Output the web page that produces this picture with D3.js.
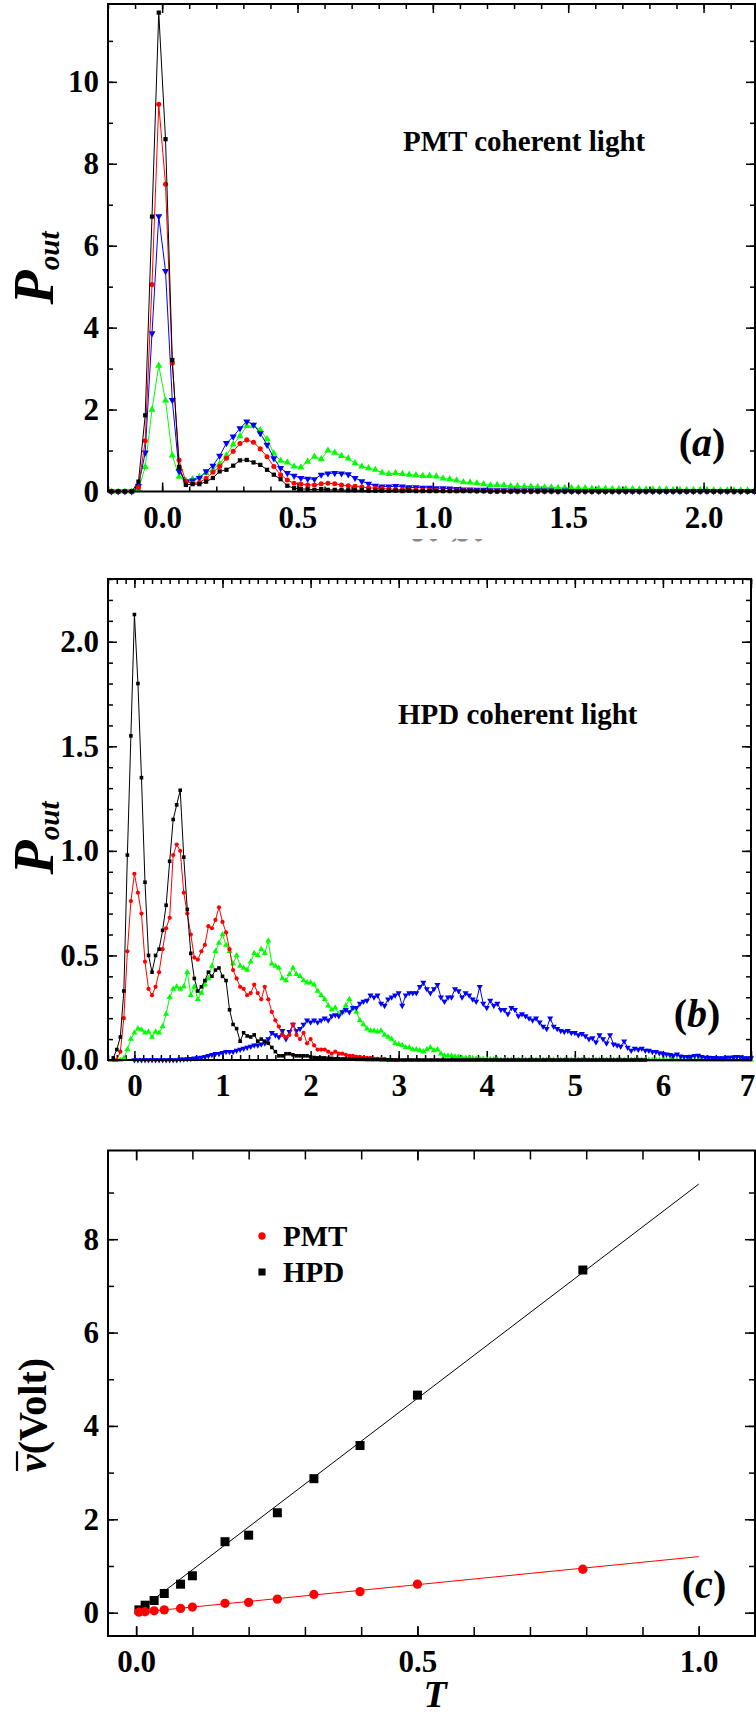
<!DOCTYPE html>
<html>
<head>
<meta charset="utf-8">
<script src="https://cdn.jsdelivr.net/npm/d3@7"></script>
<style>
  body { margin: 0; background: #fff; }
  svg { display: block; }
</style>
</head>
<body>
<svg id="fig" width="756" height="1715"></svg>
<script>
// ---- panel (a): PMT, bins of 0.025 starting at -0.1875 ----
const startA = -0.1875, stepA = 0.025;
const blackA = [0,0,0,0,0.24,1.86,6.71,11.69,8.60,3.21,
  0.60,0.16,0.18,0.18,0.24,0.33,0.49,0.53,0.63,0.76,
  0.77,0.71,0.65,0.53,0.41,0.30,0.14,0.08,0.06,0.06,
  0.04,0.06,0.04,0.04,0.04,0.03,0.03,0.03,0.02,0.02,
  0.02,0.02,0.02,0.01,0.02,0.01,0.01,0.01,0.01,0.01,
  0.01,0.01,0.01,0.01,0.01,0.01,0,0,0,0,
  0,0,0,0,0,0,0,0,0,0,0,0,0,0,0,0,0,0,0,0,
  0,0,0,0,0,0,0,0,0,0,0,0,0,0,0,0];
const redA = [0,0,0,0,0.10,1.24,5.05,9.45,7.50,3.13,
  0.77,0.24,0.20,0.22,0.32,0.47,0.61,0.81,0.98,1.17,
  1.26,1.20,1.04,0.85,0.61,0.41,0.28,0.20,0.18,0.16,
  0.16,0.19,0.20,0.19,0.16,0.14,0.13,0.11,0.09,0.08,
  0.07,0.06,0.05,0.05,0.04,0.04,0.03,0.03,0.03,0.02,
  0.02,0.02,0.02,0.02,0.01,0.01,0.01,0.01,0.01,0.01,
  0.01,0.01,0.01,0.01,0.01,0.01,0,0,0,0,
  0,0,0,0,0,0,0,0,0,0,0,0,0,0,0,0,0,0,0,0,0,0,0,0,0,0];
const blueA = [0,0,0,0,0.13,0.95,3.86,6.72,5.38,2.23,
  0.50,0.24,0.27,0.33,0.49,0.63,0.87,1.18,1.34,1.54,
  1.71,1.63,1.42,1.14,0.81,0.57,0.45,0.38,0.33,0.31,
  0.30,0.41,0.44,0.45,0.44,0.42,0.33,0.25,0.19,0.14,
  0.12,0.12,0.13,0.12,0.10,0.10,0.09,0.09,0.08,0.08,
  0.07,0.06,0.05,0.05,0.04,0.04,0.03,0.03,0.03,0.02,
  0.02,0.02,0.02,0.02,0.02,0.02,0.01,0.02,0.01,0.01,
  0.01,0.01,0.01,0.01,0.01,0.01,0.01,0.01,0.01,0.01,
  0.01,0.01,0.01,0.01,0.01,0.01,0.01,0.01,0.01,0.01,
  0.01,0.01,0.01,0.01,0.01,0.01];
const greenA = [0,0,0,0,0.05,0.60,2.00,3.07,2.22,0.88,
  0.36,0.27,0.30,0.36,0.45,0.53,0.68,0.88,1.15,1.35,
  1.60,1.60,1.50,1.28,0.93,0.75,0.71,0.61,0.59,0.73,
  0.85,0.79,1.00,0.95,0.87,0.81,0.69,0.61,0.57,0.53,
  0.46,0.43,0.45,0.43,0.41,0.40,0.38,0.38,0.37,0.32,
  0.30,0.27,0.23,0.22,0.20,0.18,0.15,0.16,0.15,0.13,
  0.13,0.12,0.12,0.11,0.10,0.10,0.09,0.09,0.08,0.08,
  0.08,0.07,0.07,0.07,0.06,0.06,0.06,0.06,0.05,0.05,
  0.05,0.05,0.05,0.04,0.04,0.04,0.04,0.04,0.04,0.03,
  0.03,0.03,0.03,0.03,0.03,0.03];

// ---- panel (b): HPD, bins of 0.04 starting at -0.24 ----
const startB = -0.24, stepB = 0.04;
const blackB = [0.01,0.05,0.11,0.33,0.98,1.55,2.13,1.80,1.35,0.85,
  0.50,0.42,0.50,0.53,0.62,0.74,0.95,1.15,1.22,1.29,
  0.97,0.72,0.51,0.39,0.33,0.35,0.38,0.42,0.40,0.43,
  0.44,0.40,0.38,0.24,0.17,0.15,0.09,0.13,0.115,0.11,
  0.12,0.09,0.10,0.09,0.08,0.06,0.04,0.02,0.02,0.03,
  0.03,0.025,0.02,0.02,0.02,0.02,0.015,0.012,0.01,0.01,
  0.01,0.008,0.008,0.006,0.006,0.005,0.005,0.004,0.004,0.003,
  0.003,0.003,0.002,0.002,0.002,0.002,0.001,0.001,0.001,0.001,
  0,0,0,0,0,0,0,0,0,0,0,0,0,0,0,0,0,0,0,0,
  0,0,0,0,0,0,0,0,0,0,0,0,0,0,0,0,0,0,0,0,
  0,0,0,0,0,0,0,0,0,0,0,0,0,0,0,0,0,0,0,0,
  0,0,0,0,0,0,0,0,0,0,0,0];
const redB = [0,0,0.04,0.20,0.52,0.76,0.89,0.80,0.70,0.47,
  0.34,0.31,0.35,0.42,0.53,0.63,0.68,0.98,1.03,1.00,
  0.80,0.70,0.60,0.49,0.48,0.52,0.55,0.64,0.63,0.67,
  0.73,0.66,0.61,0.53,0.43,0.39,0.35,0.34,0.31,0.32,
  0.36,0.32,0.29,0.35,0.29,0.23,0.19,0.16,0.12,0.11,
  0.12,0.17,0.12,0.10,0.13,0.08,0.10,0.07,0.05,0.05,
  0.05,0.04,0.03,0.04,0.03,0.03,0.025,0.02,0.02,0.015,
  0.015,0.01,0.01,0.01,0.005,0.005,0.005,0.005,0,0,0];
const greenB = [0,0,0,0.01,0.05,0.10,0.13,0.15,0.145,0.13,
  0.135,0.11,0.135,0.13,0.16,0.22,0.30,0.34,0.35,0.34,
  0.35,0.42,0.31,0.35,0.29,0.32,0.36,0.39,0.45,0.52,
  0.56,0.60,0.55,0.52,0.46,0.50,0.45,0.44,0.43,0.47,
  0.51,0.50,0.53,0.51,0.57,0.46,0.45,0.44,0.39,0.38,
  0.41,0.44,0.41,0.40,0.38,0.37,0.37,0.36,0.33,0.31,
  0.29,0.26,0.24,0.25,0.22,0.23,0.26,0.29,0.25,0.23,
  0.19,0.17,0.15,0.14,0.14,0.135,0.14,0.12,0.11,0.10,
  0.08,0.075,0.07,0.06,0.06,0.05,0.05,0.045,0.04,0.05,
  0.06,0.045,0.05,0.03,0.02,0.02,0.02,0.015,0.015,0.01,
  0.01,0.01,0.008,0.006,0.005,0.005,0.004,0.003,0.003,0.002,
  0,0,0,0,0,0,0,0,0,0,0,0,0,0,0,0,0,0,0,0,0,0,0,0,
  0,0,0,0,0,0,0,0,0,0,0,0,0,0,0,0,0,0,0,0,0,0,0,0,
  0,0,0,0,0,0,0,0,0,0,0,0,0,0,0,0,0,0,0,0,0,0,0,0];
const blueB = [null,null,null,null,null,null,
  0,0,0,0,0,0,0,0,0,0,0,0,0,
  0.003,0.004,0.005,0.006,0.008,0.01,0.012,0.015,0.02,0.025,0.03,
  0.03,0.035,0.04,0.04,0.04,0.045,0.05,0.055,0.06,0.065,
  0.07,0.07,0.075,0.08,0.10,0.13,0.12,0.11,0.14,0.10,
  0.135,0.17,0.14,0.15,0.17,0.19,0.18,0.19,0.18,0.19,
  0.20,0.19,0.21,0.215,0.21,0.23,0.24,0.23,0.25,0.25,
  0.27,0.28,0.285,0.31,0.30,0.31,0.27,0.26,0.29,0.30,
  0.31,0.32,0.26,0.31,0.32,0.32,0.32,0.35,0.37,0.34,
  0.32,0.34,0.36,0.30,0.28,0.30,0.30,0.34,0.33,0.30,
  0.32,0.31,0.29,0.28,0.35,0.27,0.25,0.285,0.26,0.27,
  0.24,0.24,0.22,0.25,0.24,0.21,0.22,0.21,0.20,0.19,
  0.20,0.18,0.16,0.15,0.20,0.16,0.15,0.14,0.135,0.14,
  0.13,0.13,0.12,0.125,0.115,0.10,0.105,0.085,0.12,0.10,
  0.08,0.12,0.075,0.07,0.065,0.09,0.06,0.045,0.055,0.05,
  0.055,0.045,0.045,0.04,0.04,0.033,0.03,0.027,0.025,0.022,
  0.028,0.018,0.016,0.015,0.017,0.02,0.022,0.015,0.012,0.012,
  0.011,0.01,0.01,0.009,0.012,0.012,0.013,0.015,0.014,0.01,
  0.01,0.01];

// ---- panel (c): mean output voltage vs transmission ----
const transC = [0.005, 0.016, 0.032, 0.05, 0.079, 0.1, 0.158, 0.2, 0.251, 0.316, 0.398, 0.5, 0.794];
const hpdC = [0.06, 0.16, 0.26, 0.41, 0.61, 0.79, 1.52, 1.66, 2.14, 2.87, 3.58, 4.66, 7.34];
const pmtC = [0.01, 0.02, 0.04, 0.06, 0.09, 0.12, 0.20, 0.22, 0.29, 0.39, 0.45, 0.61, 0.93];
const fitHPD = [[0, 0], [1, 9.18]];
const fitPMT = [[0, 0], [1, 1.2]];

const FONT = '"Liberation Serif", "Times New Roman", Times, serif';
const TICK_FS = 31;
const svg = d3.select("#fig");

function styleAxis(sel) {
  sel.select(".domain").remove();
  sel.attr("font-family", FONT).attr("font-size", TICK_FS).attr("font-weight", "bold");
  sel.selectAll("line").attr("stroke", "#000").attr("stroke-width", 1.5);
  sel.selectAll("text").attr("fill", "#000");
}

function panel(o) {
  const x = d3.scaleLinear().domain(o.xDomain).range([o.left, o.right]);
  const y = d3.scaleLinear().domain(o.yDomain).range([o.bottom, o.top]);
  const g = svg.append("g");
  const put = (axis, tr) => g.append("g").attr("transform", tr).call(axis).call(styleAxis);
  const mX = o.xMinorLen || o.minorLen, mY = o.yMinorLen || o.minorLen;

  put(d3.axisBottom(x).tickValues(o.xMinor).tickSize(-mX).tickFormat(""), `translate(0,${o.bottom})`);
  put(d3.axisTop(x).tickValues(o.xMinor).tickSize(-mX).tickFormat(""), `translate(0,${o.top})`);
  put(d3.axisLeft(y).tickValues(o.yMinor).tickSize(-mY).tickFormat(""), `translate(${o.left},0)`);
  put(d3.axisRight(y).tickValues(o.yMinor).tickSize(-mY).tickFormat(""), `translate(${o.right},0)`);

  const xa = put(d3.axisBottom(x).tickValues(o.xTicks).tickSize(-o.majorLen).tickPadding(14).tickFormat(o.xFmt), `translate(0,${o.bottom})`);
  put(d3.axisTop(x).tickValues(o.xTicks).tickSize(-o.majorLen).tickFormat(""), `translate(0,${o.top})`);
  put(d3.axisLeft(y).tickValues(o.yTicks).tickSize(-o.majorLen).tickPadding(9).tickFormat(o.yFmt), `translate(${o.left},0)`);
  put(d3.axisRight(y).tickValues(o.yTicks).tickSize(-o.majorLen).tickFormat(""), `translate(${o.right},0)`);

  const plot = g.append("g");
  g.append("rect")
    .attr("x", o.left).attr("y", o.top)
    .attr("width", o.right - o.left).attr("height", o.bottom - o.top)
    .attr("fill", "none").attr("stroke", "#000").attr("stroke-width", 2);
  return { x, y, plot, xa };
}

const steps = (a, b, s) => d3.range(Math.round((b - a) / s) + 1).map((i) => +(a + i * s).toFixed(3));

function series(p, start, step, values, color, shape, size) {
  const pts = values.map((v, i) => [start + i * step, v]).filter((d) => d[1] != null);
  p.plot.append("path").datum(pts)
    .attr("d", d3.line().x((d) => p.x(d[0])).y((d) => p.y(d[1])))
    .attr("fill", "none").attr("stroke", color).attr("stroke-width", 1);
  const type = { square: d3.symbolSquare, circle: d3.symbolCircle, up: d3.symbolTriangle, down: d3.symbolTriangle }[shape];
  p.plot.append("g").selectAll("path").data(pts).join("path")
    .attr("transform", (d) => `translate(${p.x(d[0])},${p.y(d[1])})` + (shape === "down" ? " rotate(180)" : ""))
    .attr("d", d3.symbol().type(type).size(size))
    .attr("fill", color);
}

function yLabelP(xb, yc) {
  const t = svg.append("text")
    .attr("transform", `translate(${xb},${yc}) rotate(-90)`)
    .attr("text-anchor", "middle")
    .attr("font-family", FONT).attr("font-weight", "bold").attr("font-style", "italic");
  t.append("tspan").attr("font-size", 56).text("P");
  t.append("tspan").attr("font-size", 29).attr("dy", 6).text("out");
}

function panelLabel(cx, yb, letter) {
  const t = svg.append("text")
    .attr("x", cx).attr("y", yb).attr("text-anchor", "middle")
    .attr("font-family", FONT).attr("font-weight", "bold").attr("font-size", 40);
  t.append("tspan").text("(");
  t.append("tspan").attr("font-style", "italic").text(letter);
  t.append("tspan").text(")");
}

function title(x0, yb, s) {
  svg.append("text").attr("x", x0).attr("y", yb)
    .attr("font-family", FONT).attr("font-weight", "bold").attr("font-size", 29)
    .text(s);
}

// ---------- (a) ----------
// axis title of (a), mostly hidden behind panel (b)
svg.append("clipPath").attr("id", "cutA").append("rect")
  .attr("x", 408).attr("y", 538).attr("width", 80).attr("height", 3.5);
svg.append("text").attr("clip-path", "url(#cutA)")
  .attr("x", 412).attr("y", 563)
  .attr("font-family", FONT).attr("font-weight", "bold").attr("font-size", 35)
  .attr("fill", "#888").text("V (Volt)");

const pa = panel({
  left: 108, right: 755, top: 4, bottom: 491.5,
  xDomain: [-0.2, 2.19], yDomain: [0, 11.9],
  xTicks: [0, 0.5, 1.0, 1.5, 2.0], yTicks: [0, 2, 4, 6, 8, 10],
  xMinor: steps(-0.2, 2.1, 0.1), yMinor: steps(0, 11, 1),
  xFmt: d3.format(".1f"), yFmt: d3.format("d"),
  majorLen: 9, minorLen: 5
});
series(pa, startA, stepA, greenA, "#00ff00", "up", 22);
series(pa, startA, stepA, blueA, "#0000ff", "down", 22);
series(pa, startA, stepA, redA, "#ff0000", "circle", 20);
series(pa, startA, stepA, blackA, "#000000", "square", 18);
title(403, 151, "PMT coherent light");
panelLabel(702, 456, "a");
yLabelP(53, 268);

// ---------- (b) ----------
const pb = panel({
  left: 108, right: 751, top: 579, bottom: 1060,
  xDomain: [-0.3, 7.0], yDomain: [0, 2.3],
  xTicks: [0, 1, 2, 3, 4, 5, 6, 7], yTicks: [0, 0.5, 1.0, 1.5, 2.0],
  xMinor: steps(-0.3, 7.0, 0.1), yMinor: steps(0, 2.3, 0.1),
  xFmt: d3.format("d"), yFmt: d3.format(".1f"),
  majorLen: 9, minorLen: 5
});
// last label sits on the page edge, keep it inside
pb.xa.selectAll("text").filter((d) => d === 7).attr("dx", -4);
series(pb, startB, stepB, greenB, "#00ff00", "up", 16);
series(pb, startB, stepB, blueB, "#0000ff", "down", 16);
series(pb, startB, stepB, redB, "#ff0000", "circle", 14);
series(pb, startB, stepB, blackB, "#000000", "square", 13);
title(398, 724, "HPD coherent light");
panelLabel(697, 1027, "b");
yLabelP(53, 838);

// ---------- (c) ----------
const pc = panel({
  left: 108, right: 755, top: 1150.5, bottom: 1636,
  xDomain: [-0.05, 1.1], yDomain: [-0.5, 9.9],
  xTicks: [0, 0.5, 1.0], yTicks: [0, 2, 4, 6, 8],
  xMinor: steps(0, 1.0, 0.1), yMinor: steps(0, 9, 1),
  xFmt: d3.format(".1f"), yFmt: d3.format("d"),
  majorLen: 10, minorLen: 6, xMinorLen: 9
});
const fitLine = d3.line().x((d) => pc.x(d[0])).y((d) => pc.y(d[1]));
pc.plot.append("path").datum(fitHPD).attr("d", fitLine).attr("stroke", "#000").attr("stroke-width", 1).attr("fill", "none");
pc.plot.append("path").datum(fitPMT).attr("d", fitLine).attr("stroke", "#ff0000").attr("stroke-width", 1).attr("fill", "none");
pc.plot.append("g").selectAll("path").data(transC).join("path")
  .attr("transform", (t, i) => `translate(${pc.x(t)},${pc.y(hpdC[i])})`)
  .attr("d", d3.symbol().type(d3.symbolSquare).size(81)).attr("fill", "#000");
pc.plot.append("g").selectAll("path").data(transC).join("path")
  .attr("transform", (t, i) => `translate(${pc.x(t)},${pc.y(pmtC[i])})`)
  .attr("d", d3.symbol().type(d3.symbolCircle).size(68)).attr("fill", "#ff0000");

// legend
const legend = [["PMT", "#ff0000", d3.symbolCircle, 42, 1236], ["HPD", "#000000", d3.symbolSquare, 50, 1272]];
legend.forEach(([name, color, type, size, yc]) => {
  svg.append("path").attr("transform", `translate(262,${yc})`)
    .attr("d", d3.symbol().type(type).size(size)).attr("fill", color);
  svg.append("text").attr("x", 283).attr("y", yc + 10)
    .attr("font-family", FONT).attr("font-weight", "bold").attr("font-size", 29).text(name);
});
panelLabel(704, 1598, "c");

// x title
svg.append("text").attr("x", 435).attr("y", 1707).attr("text-anchor", "middle")
  .attr("font-family", FONT).attr("font-weight", "bold").attr("font-style", "italic")
  .attr("font-size", 38).text("T");

// y title with overbar on v
const vl = svg.append("text")
  .attr("transform", "translate(46,1415) rotate(-90)")
  .attr("text-anchor", "middle")
  .attr("font-family", FONT).attr("font-weight", "bold").attr("font-size", 40);
vl.append("tspan").attr("font-style", "italic").text("v");
vl.append("tspan").text("(Volt)");
const s0 = vl.node().getStartPositionOfChar(0), e0 = vl.node().getEndPositionOfChar(0);
svg.append("line")
  .attr("transform", "translate(46,1415) rotate(-90)")
  .attr("x1", s0.x + 1).attr("x2", e0.x + 3).attr("y1", -29).attr("y2", -29)
  .attr("stroke", "#000").attr("stroke-width", 2.2);
</script>
</body>
</html>
